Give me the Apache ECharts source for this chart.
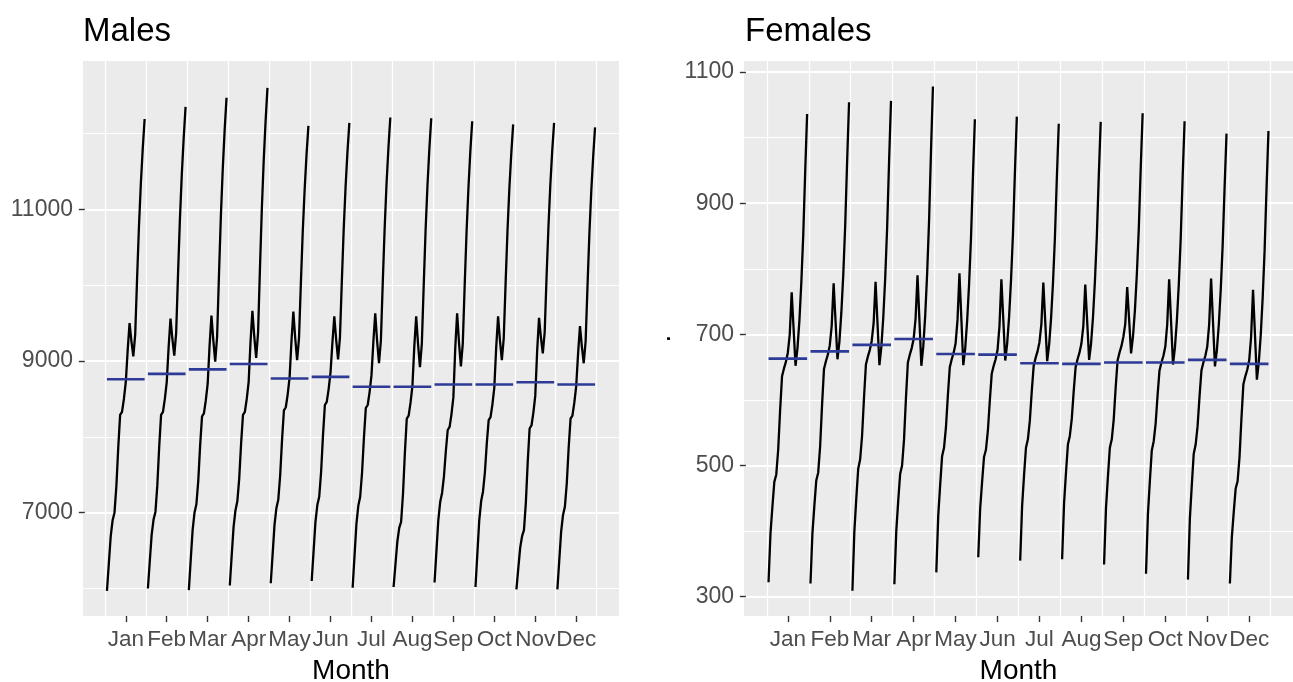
<!DOCTYPE html>
<html>
<head>
<meta charset="utf-8">
<title>Males / Females seasonal subseries</title>
<script src="https://cdn.jsdelivr.net/npm/echarts@6/dist/echarts.min.js"></script>
<style>
  html, body { margin: 0; padding: 0; background: #fff; }
  #chart { width: 1293px; height: 682px; }
</style>
</head>
<body>
<div id="chart"></div>
<script>
const months = ['Jan', 'Feb', 'Mar', 'Apr', 'May', 'Jun', 'Jul', 'Aug', 'Sep', 'Oct', 'Nov', 'Dec']
const monthTicks = [1, 2, 3, 4, 5, 6, 7, 8, 9, 10, 11, 12]
const monthBreaks = [0.5, 1.5, 2.5, 3.5, 4.5, 5.5, 6.5, 7.5, 8.5, 9.5, 10.5, 11.5, 12.5]

const maleTicks = [7000, 9000, 11000]
const maleMinor = [6000, 8000, 10000, 12000]
const femaleTicks = [300, 500, 700, 900, 1100]
const femaleMinor = [400, 600, 800, 1000]

// one row per month, one value per year
const males = [
  [5970, 6330, 6690, 6900, 7000, 7350, 7860, 8290, 8330, 8500, 8720, 9140, 9500, 9260, 9060, 9350, 10090, 10780, 11340, 11800, 12190],
  [6000, 6360, 6710, 6910, 7010, 7360, 7870, 8290, 8330, 8500, 8720, 9180, 9560, 9290, 9070, 9370, 10150, 10870, 11460, 11940, 12350],
  [5980, 6380, 6770, 7000, 7110, 7420, 7890, 8270, 8310, 8480, 8700, 9200, 9600, 9270, 8990, 9320, 10140, 10910, 11530, 12040, 12470],
  [6040, 6430, 6810, 7030, 7150, 7450, 7910, 8290, 8330, 8500, 8720, 9250, 9660, 9320, 9040, 9370, 10210, 11000, 11640, 12160, 12600],
  [6070, 6450, 6840, 7060, 7170, 7490, 7960, 8350, 8390, 8560, 8780, 9260, 9650, 9300, 9010, 9300, 10030, 10710, 11260, 11720, 12100],
  [6100, 6490, 6880, 7100, 7210, 7540, 8020, 8420, 8460, 8630, 8850, 9240, 9590, 9280, 9020, 9310, 10050, 10740, 11300, 11760, 12140],
  [6010, 6430, 6850, 7090, 7210, 7530, 7990, 8380, 8420, 8590, 8810, 9250, 9630, 9260, 8970, 9270, 10040, 10750, 11340, 11810, 12210],
  [6020, 6320, 6620, 6800, 6880, 7250, 7790, 8240, 8280, 8450, 8670, 9190, 9590, 9220, 8920, 9230, 10000, 10730, 11320, 11800, 12200],
  [6080, 6490, 6900, 7140, 7260, 7480, 7810, 8090, 8130, 8300, 8520, 9170, 9630, 9240, 8930, 9230, 9990, 10700, 11280, 11760, 12160],
  [6020, 6460, 6900, 7150, 7280, 7530, 7910, 8220, 8260, 8430, 8650, 9180, 9590, 9270, 9010, 9300, 10030, 10720, 11280, 11730, 12120],
  [5990, 6270, 6540, 6690, 6770, 7130, 7670, 8110, 8150, 8320, 8540, 9130, 9570, 9310, 9100, 9380, 10110, 10770, 11320, 11770, 12140],
  [5990, 6370, 6750, 6970, 7080, 7390, 7860, 8240, 8280, 8450, 8670, 9100, 9460, 9190, 8970, 9260, 9990, 10680, 11240, 11690, 12080]
]
const maleMeans = [8760, 8830, 8890, 8960, 8770, 8790, 8660, 8660, 8690, 8690, 8720, 8690]

const females = [
  [322, 396, 437, 475, 486, 524, 584, 636, 648, 658, 672, 700, 764, 708, 652, 679, 721, 779, 852, 948, 1036],
  [320, 396, 438, 477, 489, 529, 592, 647, 659, 669, 683, 713, 778, 720, 662, 689, 733, 791, 866, 964, 1054],
  [309, 399, 449, 495, 509, 545, 603, 654, 666, 676, 690, 717, 780, 717, 653, 681, 726, 786, 863, 963, 1056],
  [319, 400, 446, 487, 500, 539, 602, 657, 669, 679, 693, 724, 790, 721, 652, 682, 729, 793, 874, 980, 1078],
  [337, 423, 470, 514, 527, 558, 607, 650, 662, 672, 686, 722, 793, 723, 653, 679, 721, 777, 848, 942, 1028],
  [360, 434, 475, 513, 524, 553, 599, 640, 652, 662, 676, 712, 784, 722, 660, 686, 727, 783, 853, 946, 1032],
  [355, 438, 485, 527, 540, 568, 613, 652, 664, 674, 688, 716, 779, 719, 659, 684, 724, 778, 847, 938, 1021],
  [357, 442, 489, 532, 545, 571, 613, 650, 662, 672, 686, 713, 776, 719, 661, 686, 726, 781, 850, 941, 1024],
  [349, 435, 483, 527, 540, 570, 618, 660, 672, 682, 696, 716, 772, 722, 671, 697, 737, 792, 861, 953, 1037],
  [335, 426, 476, 523, 537, 564, 607, 645, 657, 667, 681, 715, 784, 719, 654, 680, 721, 776, 847, 940, 1025],
  [326, 419, 470, 518, 532, 560, 605, 645, 657, 667, 681, 715, 785, 718, 651, 676, 715, 768, 836, 924, 1006],
  [320, 390, 429, 465, 476, 513, 572, 624, 636, 646, 660, 696, 768, 700, 631, 658, 699, 756, 828, 923, 1010]
]
const femaleMeans = [663, 674, 684, 693, 670, 669, 656, 655, 657, 657, 661, 655]

const SPAN = 0.92 // width of one month's subseries on the x axis
const FONT = 'Liberation Sans, Arial, sans-serif'

const chart = echarts.init(document.getElementById('chart'), null, { renderer: 'canvas' })

// years spread across the month slot
function yearX (month, i, n) {
  return month + (i / (n - 1) - 0.5) * SPAN
}

function panelSeries (rows, means, axisIdx) {
  const out = []
  rows.forEach((row, m) => {
    out.push({
      type: 'line',
      xAxisIndex: axisIdx.x,
      yAxisIndex: axisIdx.y,
      data: row.map((v, i) => [yearX(m + 1, i, row.length), v]),
      showSymbol: false,
      symbol: 'none',
      silent: true,
      z: 3,
      lineStyle: { color: '#000000', width: 2.3 }
    })
  })
  means.forEach((v, m) => {
    out.push({
      type: 'line',
      xAxisIndex: axisIdx.x,
      yAxisIndex: axisIdx.y,
      data: [[m + 1 - SPAN / 2, v], [m + 1 + SPAN / 2, v]],
      showSymbol: false,
      symbol: 'none',
      silent: true,
      z: 4,
      lineStyle: { color: '#2D3A96', width: 2.6 }
    })
  })
  return out
}

function xAxes (gridIndex) {
  const base = {
    type: 'value',
    gridIndex: gridIndex,
    min: -0.045,
    max: 13.045,
    position: 'bottom',
    axisLine: { show: false }
  }
  return [
    Object.assign({}, base, {
      name: 'Month',
      nameLocation: 'middle',
      nameGap: 41,
      nameTextStyle: { fontSize: 28, color: '#000', fontFamily: FONT },
      axisTick: { show: true, length: 6, customValues: monthTicks, lineStyle: { color: '#333333', width: 1.4 } },
      axisLabel: {
        margin: 12,
        customValues: monthTicks,
        formatter: v => months[Math.round(v) - 1],
        fontSize: 22.5,
        color: '#4D4D4D',
        fontFamily: FONT
      },
      splitLine: { show: false }
    }),
    Object.assign({}, base, {
      axisTick: { show: false, customValues: monthBreaks },
      axisLabel: { show: false },
      splitLine: { show: true, lineStyle: { color: '#FFFFFF', width: 1.2 } }
    })
  ]
}

function yAxes (gridIndex, min, max, ticks, minor, name, nameGap) {
  const base = {
    type: 'value',
    gridIndex: gridIndex,
    min: min,
    max: max,
    position: 'left',
    axisLine: { show: false }
  }
  return [
    Object.assign({}, base, {
      name: name,
      nameLocation: 'middle',
      nameRotate: 90,
      nameGap: nameGap,
      nameTextStyle: { fontSize: 28, color: '#000', fontFamily: FONT },
      axisTick: { show: true, length: 6, customValues: ticks, lineStyle: { color: '#333333', width: 1.4 } },
      axisLabel: {
        margin: 10,
        customValues: ticks,
        formatter: v => String(v),
        fontSize: 23,
        color: '#4D4D4D',
        fontFamily: FONT
      },
      splitLine: { show: true, lineStyle: { color: '#FFFFFF', width: 2 } }
    }),
    Object.assign({}, base, {
      axisTick: { show: false, customValues: minor },
      axisLabel: { show: false },
      splitLine: { show: true, lineStyle: { color: '#FFFFFF', width: 1 } }
    })
  ]
}

const option = {
  animation: false,
  backgroundColor: '#FFFFFF',
  title: [
    { text: 'Males', left: 83, top: 15, padding: 0, textStyle: { fontSize: 33, fontWeight: 'normal', color: '#000', fontFamily: FONT } },
    { text: 'Females', left: 745, top: 15, padding: 0, textStyle: { fontSize: 33, fontWeight: 'normal', color: '#000', fontFamily: FONT } }
  ],
  grid: [
    { left: 83, right: 674, top: 61, bottom: 66, show: true, backgroundColor: '#EBEBEB', borderWidth: 0, containLabel: false, outerBoundsMode: 'none' },
    { left: 744, right: 0, top: 61, bottom: 66, show: true, backgroundColor: '#EBEBEB', borderWidth: 0, containLabel: false, outerBoundsMode: 'none' }
  ],
  xAxis: [].concat(xAxes(0), xAxes(1)),
  yAxis: [].concat(
    yAxes(0, 5638, 12955, maleTicks, maleMinor, '', 60),
    yAxes(1, 270.5, 1116.8, femaleTicks, femaleMinor, '.', 68)
  ),
  series: [].concat(
    panelSeries(males, maleMeans, { x: 0, y: 0 }),
    panelSeries(females, femaleMeans, { x: 2, y: 2 })
  )
}

chart.setOption(option)
</script>
</body>
</html>
